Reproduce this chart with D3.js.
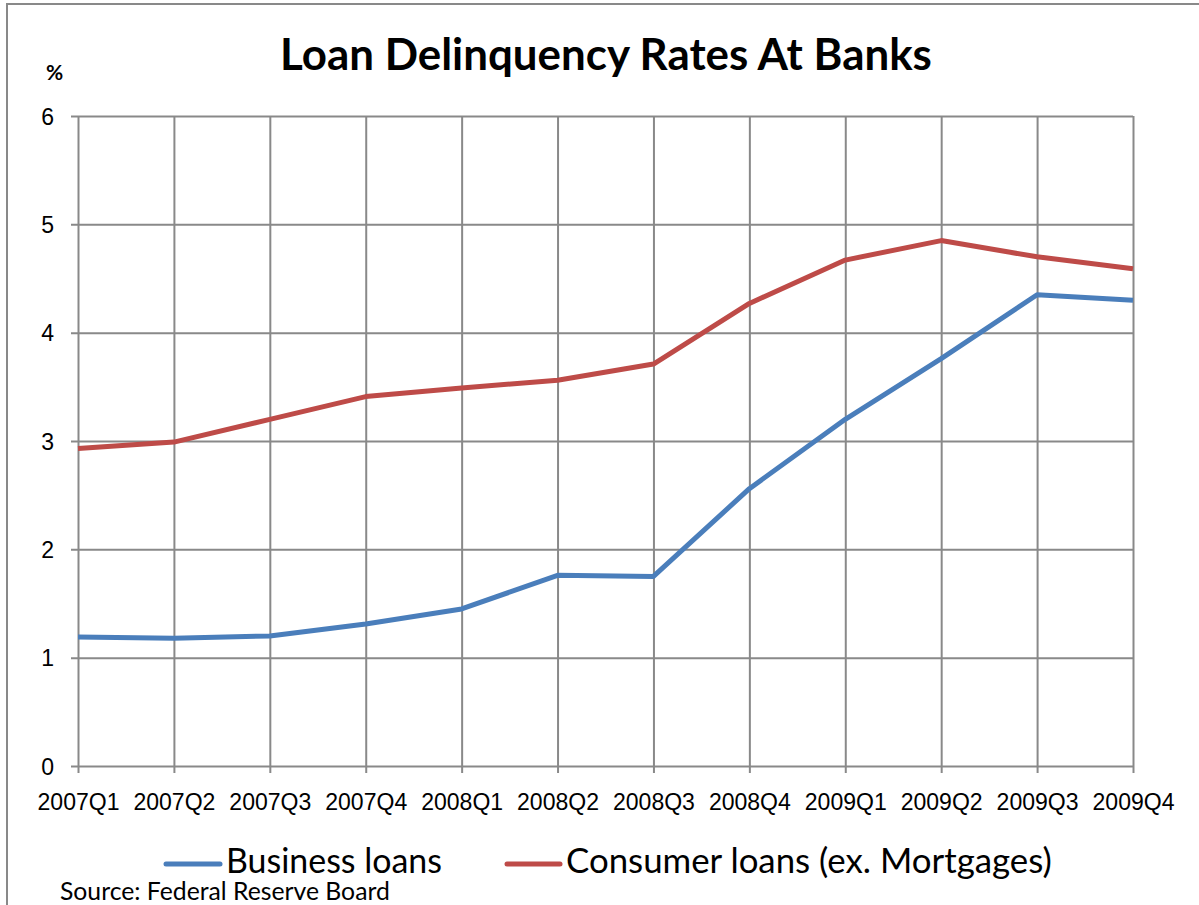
<!DOCTYPE html>
<html>
<head>
  <meta charset="UTF-8">
  <title>Loan Delinquency Rates At Banks</title>
  <script src="https://d3js.org/d3.v7.min.js"></script>
  <style>
    body {
      margin: 0;
      background: #fff;
      font-family: Lato, "Open Sans", sans-serif;
    }
    .grid line {
      stroke: #898989;
      stroke-width: 2;
    }
    .axis text {
      fill: #000;
      font-size: 22px;
    }
    .axis path {
      display: none;
    }
    .series {
      fill: none;
      stroke-width: 5;
      stroke-linejoin: round;
    }
  </style>
</head>
<body>
  <div id="chart"></div>
  <script>
    const quarters = ["2007Q1", "2007Q2", "2007Q3", "2007Q4", "2008Q1", "2008Q2",
      "2008Q3", "2008Q4", "2009Q1", "2009Q2", "2009Q3", "2009Q4"];
    const businessLoans = [1.19, 1.18, 1.20, 1.31, 1.45, 1.76, 1.75, 2.56, 3.20, 3.76, 4.35, 4.30];
    const consumerLoans = [2.93, 2.99, 3.20, 3.41, 3.49, 3.56, 3.71, 4.27, 4.67, 4.85, 4.70, 4.59];
    const yTicks = [0, 1, 2, 3, 4, 5, 6];
    const seriesNames = ["Business loans", "Consumer loans (ex. Mortgages)"];
    const seriesColors = ["#4a7ebb", "#be4b48"];

    const W = 1199, H = 905;
    const plot = { left: 78, right: 1133, top: 116, bottom: 766 };

    // shrink/grow a text node so it spans the given width
    const fitWidth = (sel, target) => {
      const node = sel.node();
      const size = parseFloat(sel.style("font-size"));
      const w = node.getComputedTextLength();
      sel.style("font-size", (size * target / w) + "px");
      return size * target / w;
    };

    const svg = d3.select("#chart")
      .append("svg")
      .attr("width", W)
      .attr("height", H);

    svg.append("rect")
      .attr("width", W).attr("height", H)
      .attr("fill", "#fff");

    // chart area border (runs off the right and bottom edges)
    svg.append("rect")
      .attr("x", 7).attr("y", 4)
      .attr("width", W + 20).attr("height", H + 20)
      .attr("fill", "none")
      .attr("stroke", "#898989")
      .attr("stroke-width", 2);

    const x = d3.scalePoint()
      .domain(quarters)
      .range([plot.left, plot.right]);

    const y = d3.scaleLinear()
      .domain([0, 6])
      .range([plot.bottom, plot.top]);

    // horizontal grid + y labels
    const yAxis = svg.append("g")
      .attr("class", "axis grid")
      .attr("transform", `translate(${plot.left},0)`)
      .call(d3.axisLeft(y).tickValues(yTicks).tickSize(-(plot.right - plot.left)).tickPadding(24).tickFormat(d3.format("d")));
    yAxis.selectAll("line").attr("x1", -7);
    yAxis.selectAll("text").attr("dy", "0.36em");

    // vertical grid + x labels
    const xAxis = svg.append("g")
      .attr("class", "axis grid")
      .attr("transform", `translate(0,${plot.bottom})`)
      .call(d3.axisBottom(x).tickSize(-(plot.bottom - plot.top)).tickPadding(0));
    xAxis.selectAll("line").attr("y1", 7);
    const xLabels = xAxis.selectAll("text").attr("y", 44).attr("dy", 0);
    const xSize = fitWidth(d3.select(xLabels.nodes()[0]), 82);
    xLabels.style("font-size", xSize + "px");
    yAxis.selectAll("text").style("font-size", xSize + "px");

    const line = d3.line()
      .x((d, i) => x(quarters[i]))
      .y(d => y(d));

    [businessLoans, consumerLoans].forEach((vals, k) => {
      svg.append("path")
        .datum(vals)
        .attr("class", "series")
        .attr("stroke", seriesColors[k])
        .attr("d", line);
    });

    // title
    const title = svg.append("text")
      .attr("x", 606).attr("y", 70)
      .attr("text-anchor", "middle")
      .style("font-size", "42px")
      .style("font-weight", "bold")
      .text("Loan Delinquency Rates At Banks");
    fitWidth(title, 652);

    // unit label
    svg.append("text")
      .attr("x", 46).attr("y", 80)
      .style("font-size", "21px")
      .style("font-weight", "bold")
      .text("%");

    // legend
    const legendPos = [{ x1: 166, x2: 220, tx: 226, w: 216 }, { x1: 507, x2: 560, tx: 566, w: 486 }];
    seriesNames.forEach((name, k) => {
      const p = legendPos[k];
      svg.append("line")
        .attr("x1", p.x1).attr("x2", p.x2)
        .attr("y1", 864).attr("y2", 864)
        .attr("stroke", seriesColors[k])
        .attr("stroke-width", 5)
        .attr("stroke-linecap", "round");
      const t = svg.append("text")
        .attr("x", p.tx).attr("y", 873)
        .style("font-size", "30px")
        .text(name);
      fitWidth(t, p.w);
    });

    // source note
    const src = svg.append("text")
      .attr("x", 60).attr("y", 900)
      .style("font-size", "22px")
      .text("Source: Federal Reserve Board");
    fitWidth(src, 330);
  </script>
</body>
</html>
